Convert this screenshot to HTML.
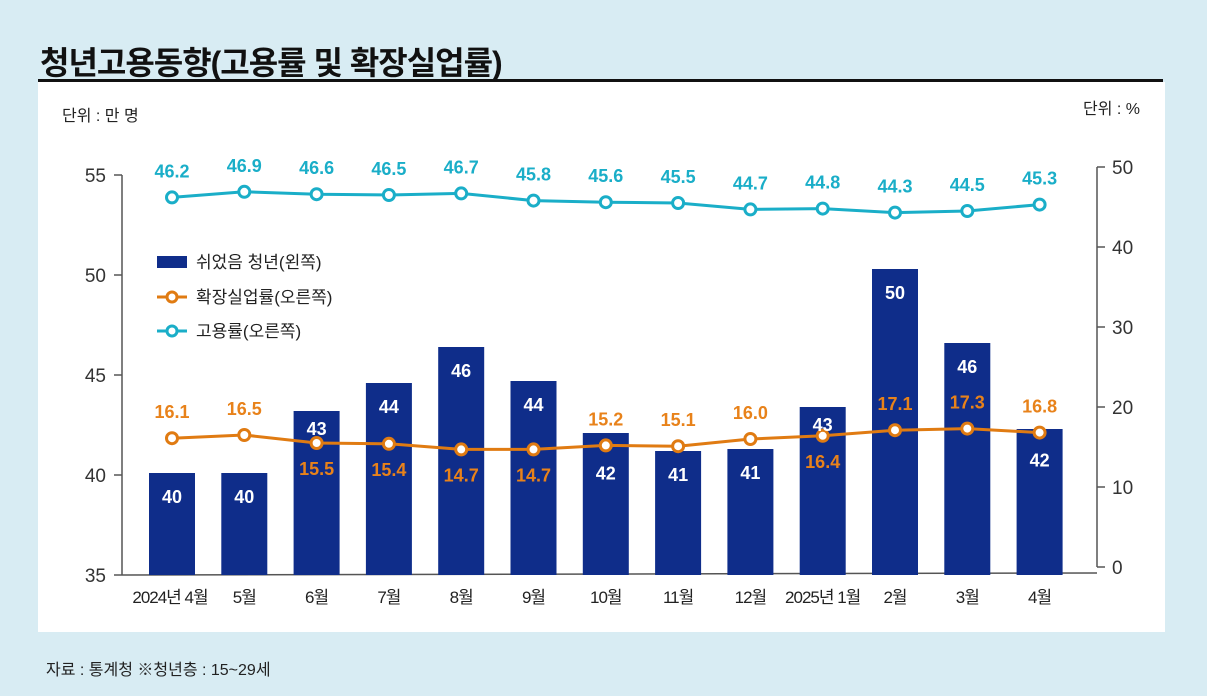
<!DOCTYPE html>
<html><head><meta charset="utf-8">
<style>
body{margin:0;width:1207px;height:696px;background:#d8ecf3;font-family:"Liberation Sans","Noto Sans CJK KR",sans-serif;overflow:hidden;position:relative}
#panel{position:absolute;left:38px;top:82px;width:1127px;height:550px;background:#fff}
#title{position:absolute;left:40px;top:38px;font-size:32px;font-weight:bold;color:#111;letter-spacing:-1px}
#rule{position:absolute;left:38px;top:79px;width:1125px;height:3px;background:#111}
#src{position:absolute;left:46px;top:656px;font-size:16px;color:#222}
svg{position:absolute;left:0;top:0}
</style></head><body>
<div id="panel"></div>
<div id="title">청년고용동향(고용률 및 확장실업률)</div>
<div id="rule"></div>
<div id="src">자료 : 통계청 ※청년층 : 15~29세</div>
<svg id="chart" width="1207" height="696"></svg>
<script>
const categories=["2024년 4월","5월","6월","7월","8월","9월","10월","11월","12월","2025년 1월","2월","3월","4월"];
const restValues=[40.1,40.1,43.2,44.6,46.4,44.7,42.1,41.2,41.3,43.4,50.3,46.6,42.3];
const restLabels=["40","40","43","44","46","44","42","41","41","43","50","46","42"];
const unempValues=[16.1,16.5,15.5,15.4,14.7,14.7,15.2,15.1,16.0,16.4,17.1,17.3,16.8];
const empValues=[46.2,46.9,46.6,46.5,46.7,45.8,45.6,45.5,44.7,44.8,44.3,44.5,45.3];
const leftTicks=[35,40,45,50,55];
const rightTicks=[0,10,20,30,40,50];
const NS="http://www.w3.org/2000/svg";
const svg=document.getElementById('chart');
function yL(v){return 575-(v-35)*20;}
function yR(v){return 567-v*8;}
function xC(i){return 172+i*72.3;}
function el(t,a,txt){const e=document.createElementNS(NS,t);for(const k in a)e.setAttribute(k,a[k]);if(txt!==undefined)e.textContent=txt;svg.appendChild(e);return e;}
let e;
e=el('text',{x:62,y:121,'font-size':16,fill:'#222'},'단위 : 만 명');


e=el('text',{x:1140,y:114,'font-size':16,fill:'#222','text-anchor':'end'},'단위 : %');


e=el('line',{x1:122,y1:yL(55),x2:122,y2:575,stroke:'#555','stroke-width':1.5});


e=el('line',{x1:1097,y1:yR(50),x2:1097,y2:567,stroke:'#555','stroke-width':1.5});


e=el('line',{x1:122,y1:575,x2:1097,y2:573,stroke:'#555','stroke-width':1.5});


leftTicks.forEach(v=>{
 e=el('line',{x1:114,y1:yL(v),x2:122,y2:yL(v),stroke:'#555','stroke-width':1.5});
 
 
 e=el('text',{x:106,y:yL(v)+7,'font-size':19,fill:'#333','text-anchor':'end'},v);
 
 
});
rightTicks.forEach(v=>{
 e=el('line',{x1:1097,y1:yR(v),x2:1105,y2:yR(v),stroke:'#555','stroke-width':1.5});
 
 
 e=el('text',{x:1112,y:yR(v)+7,'font-size':19,fill:'#333'},v);
 
 
});
categories.forEach((c,i)=>{
 e=el('text',{x:xC(i)+(i==0?-2:0),y:603,'font-size':17,fill:'#222','text-anchor':'middle','letter-spacing':'-1'},c);
 
 
});
restValues.forEach((v,i)=>{
 e=el('rect',{x:xC(i)-23,y:yL(v),width:46,height:575-yL(v),fill:'#0f2d8a'});
 
 
});
e=el('polyline',{points:empValues.map((v,i)=>xC(i)+','+yR(v)).join(' '),fill:'none',stroke:'#1aaec8','stroke-width':3});


e=el('polyline',{points:unempValues.map((v,i)=>xC(i)+','+yR(v)).join(' '),fill:'none',stroke:'#e07b12','stroke-width':3});


empValues.forEach((v,i)=>{
 e=el('circle',{cx:xC(i),cy:yR(v),r:5.5,fill:'#fff',stroke:'#1aaec8','stroke-width':3});
 
 
 e=el('text',{x:xC(i),y:yR(v)-20,'font-size':18,'font-weight':'bold',fill:'#1aaec8','text-anchor':'middle'},v.toFixed(1));
 
 
});
const below=[0,0,1,1,1,1,0,0,0,1,0,0,0];
unempValues.forEach((v,i)=>{
 e=el('circle',{cx:xC(i),cy:yR(v),r:5.5,fill:'#fff',stroke:'#e07b12','stroke-width':3});
 
 
 e=el('text',{x:xC(i),y:below[i]?yR(v)+32:yR(v)-20,'font-size':18,'font-weight':'bold',fill:'#e8821a','text-anchor':'middle'},v.toFixed(1));
 
 
});
restLabels.forEach((t,i)=>{
 let y=yL(restValues[i])+30;
 if(i==2) y=yL(restValues[i])+24;
 if((i>=6&&i<=8)||i==12) y=Math.max(y,yR(unempValues[i])+34);
 if(i==9) y=yL(restValues[i])+24;
 e=el('text',{x:xC(i),y:y,'font-size':18,'font-weight':'bold',fill:'#fff','text-anchor':'middle'},t);
 
 
});
e=el('rect',{x:157,y:256,width:30,height:12,fill:'#0f2d8a'});


e=el('text',{x:196,y:268,'font-size':17,fill:'#222'},'쉬었음 청년(왼쪽)');


[['#e07b12','확장실업률(오른쪽)',297,'unemployment'],['#1aaec8','고용률(오른쪽)',331,'employment']].forEach(l=>{
 e=el('line',{x1:157,y1:l[2],x2:187,y2:l[2],stroke:l[0],'stroke-width':3});
 
 
 e=el('circle',{cx:172,cy:l[2],r:5,fill:'#fff',stroke:l[0],'stroke-width':3});
 
 
 e=el('text',{x:196,y:l[2]+6,'font-size':17,fill:'#222'},l[1]);
 
 
});
</script>
</body></html>
